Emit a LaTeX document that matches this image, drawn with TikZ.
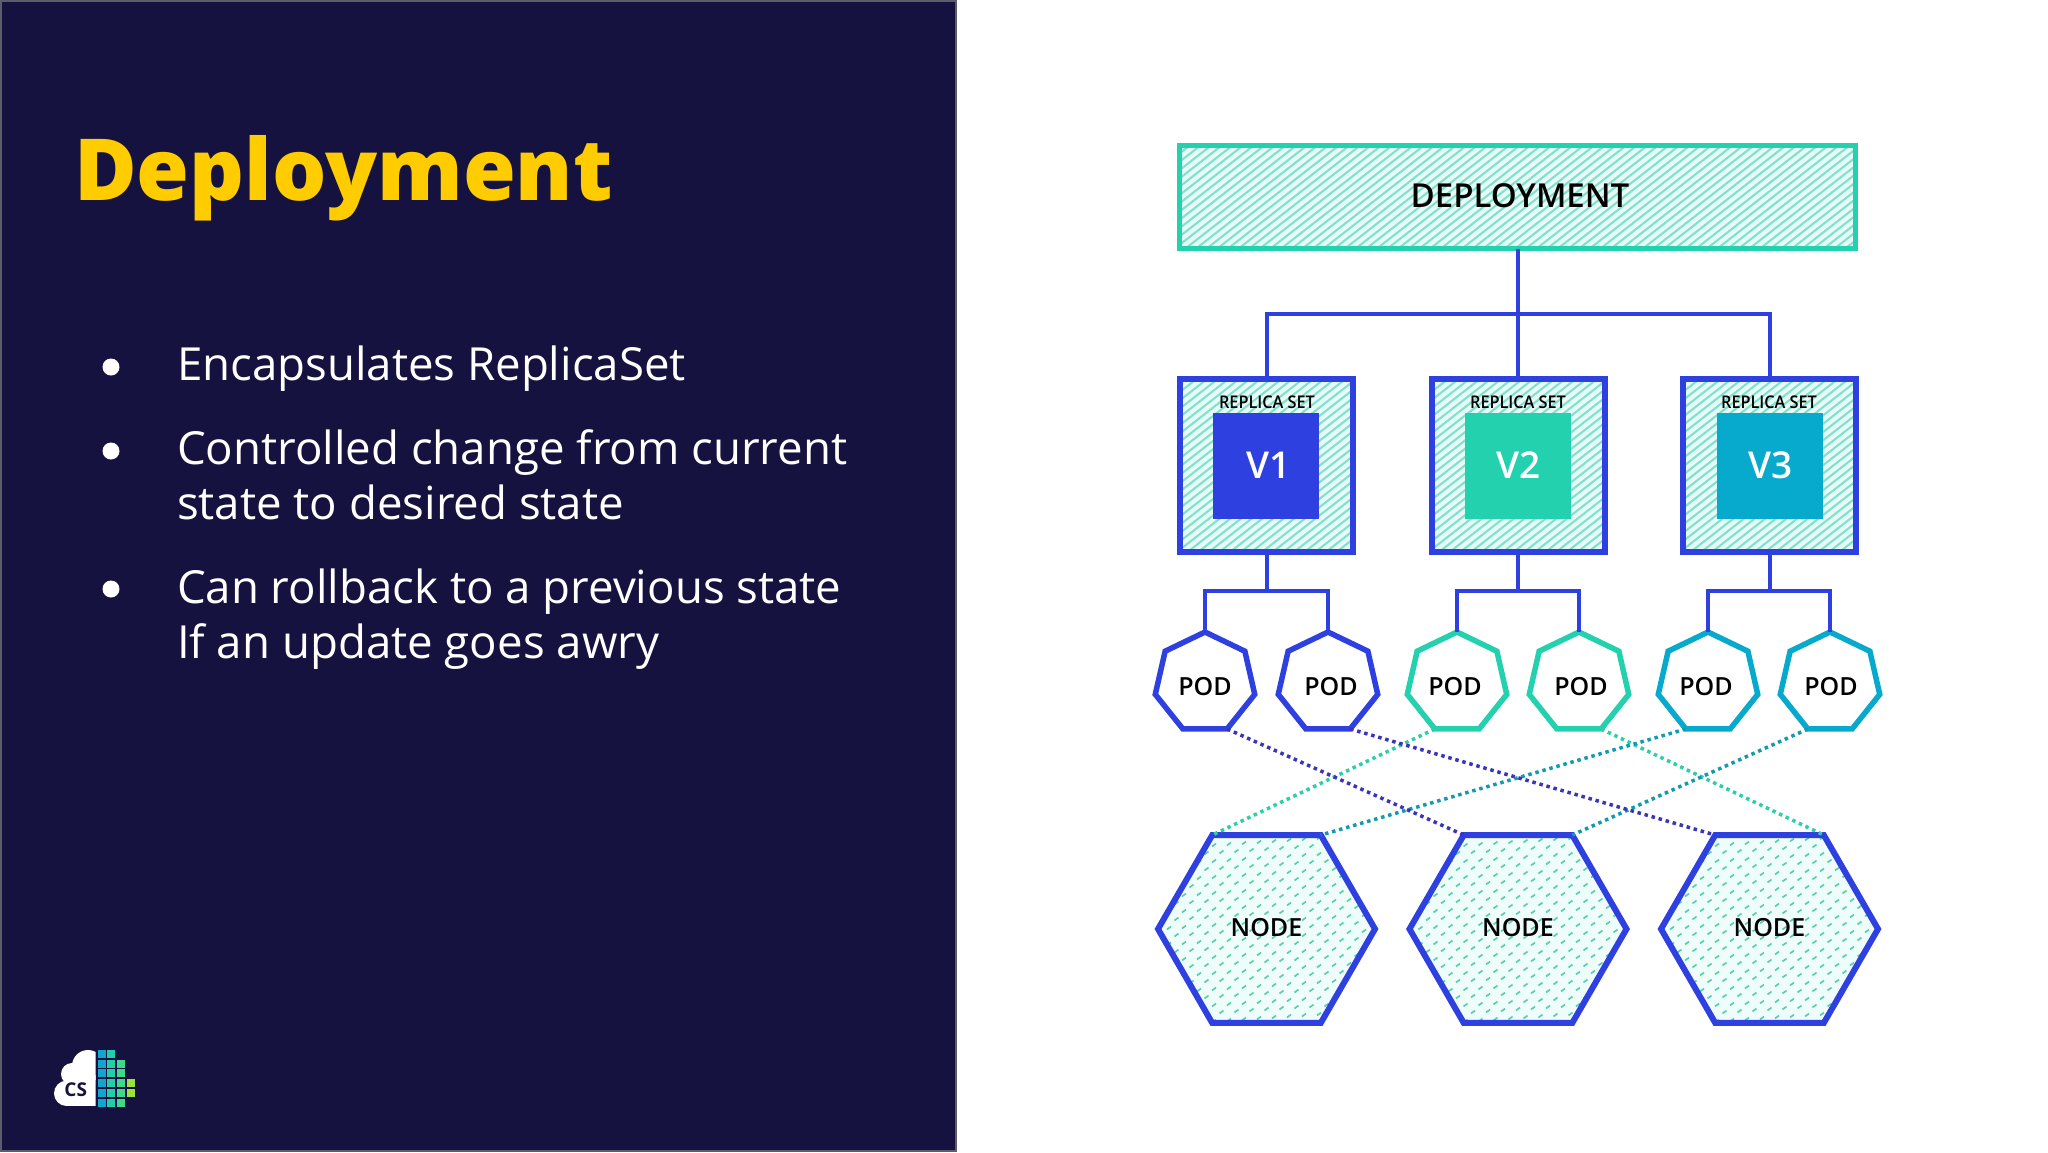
\documentclass[tikz,border=0pt]{standalone}
\usepackage{fontspec}
\usetikzlibrary{shapes.geometric}
\setmainfont{Open Sans}
\IfFontExistsTF{Open Sans Semibold}{\newfontfamily\semifont{Open Sans Semibold}}{\newfontfamily\semifont{Open Sans}[FakeBold=1.2]}
\IfFontExistsTF{Open Sans Extrabold}{\newfontfamily\titlefont{Open Sans Extrabold}}{\newfontfamily\titlefont{Open Sans Bold}[FakeBold=1.2,LetterSpace=1.5]}
\definecolor{navy}{HTML}{16123F}
\definecolor{edgegray}{HTML}{5C5C6A}
\definecolor{gold}{HTML}{FFCC00}
\definecolor{kblue}{HTML}{2F40E0}
\definecolor{kteal}{HTML}{24D1AE}
\definecolor{kcyan}{HTML}{07A9CD}
\definecolor{hatchbg}{HTML}{E6FAF6}
\definecolor{hatchln}{HTML}{7FE0CC}
\definecolor{dotbg}{HTML}{EEFCFA}
\definecolor{dotln}{HTML}{5CCDB0}
\definecolor{dotblue}{HTML}{3A35B8}
\definecolor{dotteal}{HTML}{2BCFA8}
\definecolor{dotcyan}{HTML}{129BB0}
\definecolor{logoa}{HTML}{10A6CE}
\definecolor{logob}{HTML}{22CFA9}
\definecolor{logoc}{HTML}{3FD98A}
\definecolor{logod}{HTML}{9BE23C}
\newcommand{\hatchlines}[2]{%
  \fill[hatchbg] (path picture bounding box.south west) rectangle (path picture bounding box.north east);
  \begin{scope}[shift={(path picture bounding box.center)}]
  \foreach \k in {-#2,...,#2}
    \draw[hatchln,line width=2pt] ({-#1},{\k*8.3+#1*0.78}) -- ({#1},{\k*8.3-#1*0.78});
  \end{scope}}
\newcommand{\dashgrid}{%
  \fill[dotbg] (path picture bounding box.south west) rectangle (path picture bounding box.north east);
  \begin{scope}[shift={(path picture bounding box.center)}]
  \foreach \r in {-14,...,14}
    \foreach \c in {-8,...,8}
      \draw[dotln,line width=1.7pt] ({\c*15+7.5*mod(\r+14,2)-2},{\r*8-\c*1+1.4}) -- ++(4,-2.8);
  \end{scope}}
\tikzset{
  x=1pt,y=-1pt,
  txt/.style={inner sep=0pt,outer sep=0pt,anchor=base west},
  depbox/.style={draw=kteal,line width=5.5pt,rectangle,inner sep=0pt,outer sep=0pt,minimum width=676pt,minimum height=103pt,path picture={\hatchlines{345}{40}}},
  rsbox/.style={draw=kblue,line width=6pt,rectangle,inner sep=0pt,outer sep=0pt,minimum width=173pt,minimum height=173pt,path picture={\hatchlines{92}{20}}},
  vbox/.style={rectangle,inner sep=0pt,outer sep=0pt,minimum size=106pt},
  vlabel/.style={inner sep=0pt,outer sep=0pt,text=white,font=\semifont\fontsize{37}{37}\selectfont},
  rslabel/.style={inner sep=0pt,outer sep=0pt,font=\semifont\fontsize{17.5}{17.5}\selectfont,text=black},
  podshape/.style={regular polygon,regular polygon sides=7,line width=5.5pt,fill=white,inner sep=0pt,outer sep=0pt,minimum size=102pt},
  nodeshape/.style={regular polygon,regular polygon sides=6,draw=kblue,line width=6pt,inner sep=0pt,outer sep=0pt,minimum size=217pt,path picture={\dashgrid}},
  lab/.style={inner sep=0pt,outer sep=0pt,text=black,font=\semifont\fontsize{25}{25}\selectfont},
  wire/.style={draw=kblue,line width=4pt},
  dots/.style={line width=3.5pt,dash pattern=on 3.5pt off 3.8pt},
  bullet/.style={circle,fill=white,inner sep=0pt,outer sep=0pt,minimum size=17pt},
}
\begin{document}
\begin{tikzpicture}
\useasboundingbox (0,0) rectangle (2048,1152);
\fill[white] (0,0) rectangle (2048,1152);
\fill[navy] (0,0) rectangle (956,1152);
\draw[edgegray,line width=2pt] (1,1) -- (956,1) -- (956,1151) -- (1,1151) -- cycle;
% left text
\node[txt,text=gold] (title) at (74,200) {\titlefont\fontsize{85.6}{85.6}\selectfont Deployment};
\node[bullet] (b1) at (111,367) {};
\node[bullet] (b2) at (111,451) {};
\node[bullet] (b3) at (111,589) {};
\node[txt,text=white] (t1) at (177,380) {\fontsize{45.6}{55}\selectfont Encapsulates ReplicaSet};
\node[txt,text=white] (t2) at (177,464) {\fontsize{45.6}{55}\selectfont Controlled change from current};
\node[txt,text=white] (t3) at (177,519) {\fontsize{45.6}{55}\selectfont state to desired state};
\node[txt,text=white] (t4) at (177,603) {\fontsize{45.6}{55}\selectfont Can rollback to a previous state};
\node[txt,text=white] (t5) at (177,658) {\fontsize{45.6}{55}\selectfont If an update goes awry};
% logo
\begin{scope}
  \clip (40,1040) rectangle (95.7,1110);
  \fill[white] (66.7,1093.3) circle (12.7);
  \fill[white] (72,1074) circle (11);
  \fill[white] (88,1066) circle (16);
  \fill[white] (66,1075) rectangle (96,1106);
\end{scope}
\node[inner sep=0pt,text=navy,font=\bfseries\fontsize{19}{19}\selectfont] (cs) at (75.7,1090) {CS};
\foreach \yy in {0,...,5} \fill[logoa] (97.7,1050+\yy*9.7) rectangle ++(8,8);
\foreach \yy in {0,...,5} \fill[logob] (107.4,1050+\yy*9.7) rectangle ++(8,8);
\foreach \yy in {1,...,5} \fill[logoc] (117.1,1050+\yy*9.7) rectangle ++(8,8);
\foreach \yy in {3,4} \fill[logod] (126.8,1050+\yy*9.7) rectangle ++(8,8);
% diagram nodes
\node[depbox] (dep) at (1517.5,197) {};
\node[font=\semifont\fontsize{33}{33}\selectfont,inner sep=0pt] (deplabel) at (1520,196) {DEPLOYMENT};
\node[rsbox] (rs1) at (1266.5,465.5) {};
\node[rsbox] (rs2) at (1518,465.5) {};
\node[rsbox] (rs3) at (1769.5,465.5) {};
\node[vbox,fill=kblue] (v1) at (1266,465.5) {};
\node[vbox,fill=kteal] (v2) at (1518,465.5) {};
\node[vbox,fill=kcyan] (v3) at (1769.5,465.5) {};
\node[vlabel] (vl1) at (1269,465) {V1};
\node[vlabel] (vl2) at (1519,465) {V2};
\node[vlabel] (vl3) at (1770.5,465) {V3};
\node[rslabel] (l1) at (1267,402) {\scalebox{0.93}[1]{REPLICA SET}};
\node[rslabel] (l2) at (1518,402) {\scalebox{0.93}[1]{REPLICA SET}};
\node[rslabel] (l3) at (1769,402) {\scalebox{0.93}[1]{REPLICA SET}};
\node[podshape,draw=kblue] (p1) at (1205,683) {};
\node[podshape,draw=kblue] (p2) at (1328,683) {};
\node[podshape,draw=kteal] (p3) at (1457,683) {};
\node[podshape,draw=kteal] (p4) at (1579,683) {};
\node[podshape,draw=kcyan] (p5) at (1708,683) {};
\node[podshape,draw=kcyan] (p6) at (1830,683) {};
\node[lab] (pl1) at (1205,687) {POD};
\node[lab] (pl2) at (1331,687) {POD};
\node[lab] (pl3) at (1455,687) {POD};
\node[lab] (pl4) at (1581,687) {POD};
\node[lab] (pl5) at (1706,687) {POD};
\node[lab] (pl6) at (1831,687) {POD};
\node[nodeshape] (n1) at (1266.5,929) {};
\node[nodeshape] (n2) at (1518,929) {};
\node[nodeshape] (n3) at (1769.5,929) {};
\node[lab] (nl1) at (1266.5,928) {NODE};
\node[lab] (nl2) at (1518,928) {NODE};
\node[lab] (nl3) at (1769.5,928) {NODE};
% wires
\coordinate (bus) at (rs2.north |- 0,314);
\coordinate (j1) at (rs1.south |- 0,591);
\coordinate (j2) at (rs2.south |- 0,591);
\coordinate (j3) at (rs3.south |- 0,591);
\draw[wire] (rs2.north |- dep.south) -- (rs2.north);
\draw[wire] (rs1.north) |- (bus) -| (rs3.north);
\draw[wire] (rs1.south) -- (j1);
\draw[wire] (rs2.south) -- (j2);
\draw[wire] (rs3.south) -- (j3);
\draw[wire] (p1.corner 1) |- (j1) -| (p2.corner 1);
\draw[wire] (p3.corner 1) |- (j2) -| (p4.corner 1);
\draw[wire] (p5.corner 1) |- (j3) -| (p6.corner 1);
% dotted links
\draw[dots,draw=dotteal] (p3.corner 4) -- (n1.corner 2);
\draw[dots,draw=dotteal] (p4.corner 5) -- (n3.corner 1);
\draw[dots,draw=dotcyan] (p5.corner 4) -- (n1.corner 1);
\draw[dots,draw=dotcyan] (p6.corner 4) -- (n2.corner 1);
\draw[dots,draw=dotblue] (p1.corner 5) -- (n2.corner 2);
\draw[dots,draw=dotblue] (p2.corner 5) -- (n3.corner 2);
\end{tikzpicture}
\end{document}
